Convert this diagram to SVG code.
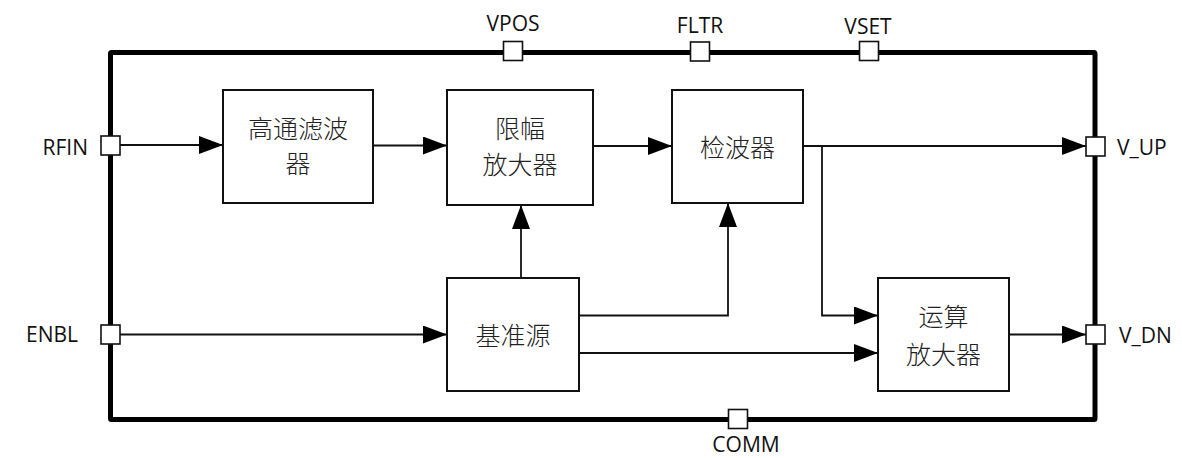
<svg xmlns="http://www.w3.org/2000/svg" width="1182" height="458" viewBox="0 0 1182 458">
<style>
.lat{font-family:"Open Sans","Noto Sans",sans-serif;font-size:21px;fill:#111}
.cn{font-family:"Noto Sans CJK SC","Noto Sans",sans-serif;font-size:25px;fill:#222;text-anchor:middle;dominant-baseline:central;font-weight:300}
.box{fill:#fff;stroke:#111;stroke-width:2}
.pin{fill:#fff;stroke:#111;stroke-width:1.6}
.wire{fill:none;stroke:#111;stroke-width:1.8}
</style>
<defs>
<marker id="arr" markerUnits="userSpaceOnUse" markerWidth="24" markerHeight="18" viewBox="0 0 24 18" refX="24" refY="9" orient="auto">
<path d="M0,0 L24,9 L0,18 z" fill="#000"/>
</marker>
</defs>
<rect id="frame" x="110.5" y="52.5" width="984.5" height="367" fill="none" stroke="#000" stroke-width="5" rx="1"/>
<g id="connectors">
<path class="wire" d="M120,145 H223" marker-end="url(#arr)"/>
<path class="wire" d="M373,145.5 H447" marker-end="url(#arr)"/>
<path class="wire" d="M593,146 H672" marker-end="url(#arr)"/>
<path class="wire" d="M803,146 H1086" marker-end="url(#arr)"/>
<path class="wire" d="M822,146 V315.5 H878" marker-end="url(#arr)"/>
<path class="wire" d="M521,278 V205" marker-end="url(#arr)"/>
<path class="wire" d="M579,315.5 H728 V203" marker-end="url(#arr)"/>
<path class="wire" d="M579,353 H878" marker-end="url(#arr)"/>
<path class="wire" d="M120,334.5 H447" marker-end="url(#arr)"/>
<path class="wire" d="M1009,334.5 H1086" marker-end="url(#arr)"/>
</g>
<g id="hpf"><rect class="box" x="223" y="90" width="150" height="113"/><text class="cn" x="298" y="127">高通滤波</text><text class="cn" x="298" y="162">器</text></g>
<g id="limamp"><rect class="box" x="447" y="90" width="146" height="115"/><text class="cn" x="520" y="127">限幅</text><text class="cn" x="520" y="163">放大器</text></g>
<g id="detector"><rect class="box" x="672" y="90" width="131" height="113"/><text class="cn" x="737.5" y="146">检波器</text></g>
<g id="ref"><rect class="box" x="447" y="278" width="132" height="113"/><text class="cn" x="513" y="334">基准源</text></g>
<g id="opamp"><rect class="box" x="878" y="278" width="131" height="113"/><text class="cn" x="943.5" y="315">运算</text><text class="cn" x="943.5" y="353">放大器</text></g>
<g id="pin-rfin"><rect class="pin" x="101" y="136" width="19" height="19"/><text class="lat" x="88" y="155" text-anchor="end">RFIN</text></g>
<g id="pin-enbl"><rect class="pin" x="101" y="325" width="19" height="19"/><text class="lat" x="78" y="342" text-anchor="end">ENBL</text></g>
<g id="pin-vpos"><rect class="pin" x="503.5" y="41.5" width="19" height="19"/><text class="lat" x="513" y="31" text-anchor="middle">VPOS</text></g>
<g id="pin-fltr"><rect class="pin" x="690.5" y="42" width="19" height="19"/><text class="lat" x="700" y="33" text-anchor="middle">FLTR</text></g>
<g id="pin-vset"><rect class="pin" x="859.5" y="41.5" width="19" height="19"/><text class="lat" x="868" y="34" text-anchor="middle">VSET</text></g>
<g id="pin-vup"><rect class="pin" x="1086" y="137" width="19" height="19"/><text class="lat" x="1117" y="155">V_UP</text></g>
<g id="pin-vdn"><rect class="pin" x="1086" y="325" width="19" height="19"/><text class="lat" x="1119" y="343">V_DN</text></g>
<g id="pin-comm"><rect class="pin" x="728.5" y="409.5" width="19" height="19"/><text class="lat" x="746" y="452" text-anchor="middle">COMM</text></g>
</svg>
